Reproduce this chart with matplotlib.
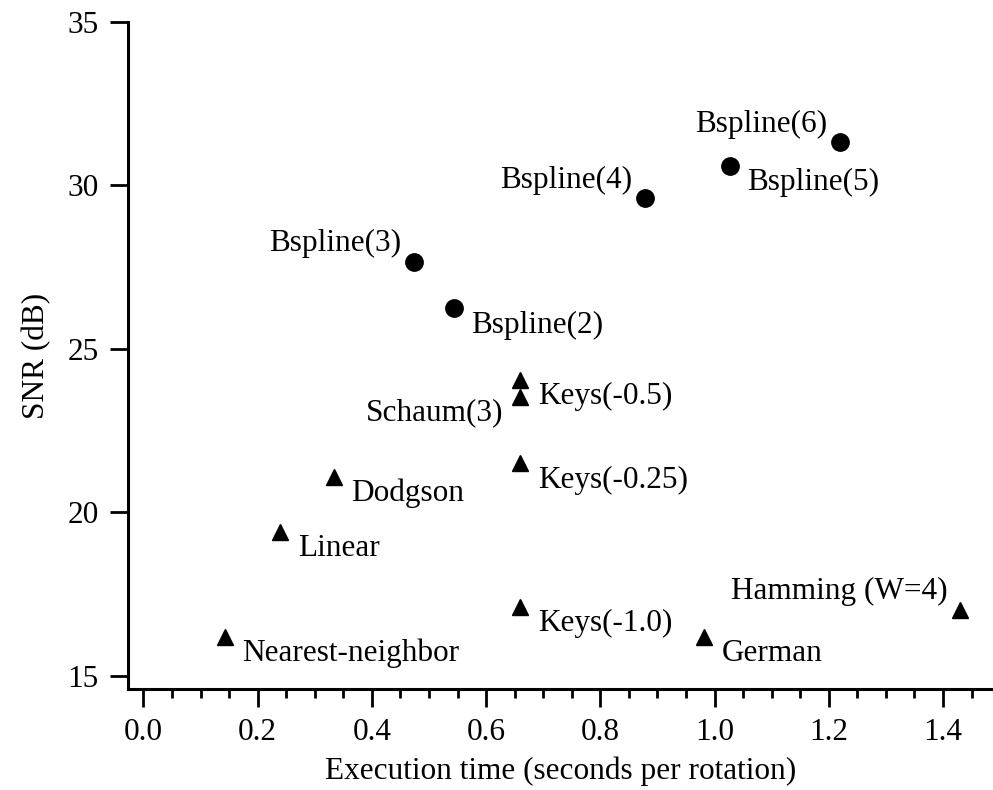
import matplotlib
matplotlib.use("Agg")
import matplotlib.pyplot as plt
from matplotlib.ticker import MultipleLocator

plt.rcParams['font.family'] = ['Liberation Serif', 'DejaVu Serif']

# Data
bspline_names = ["Bspline(2)", "Bspline(3)", "Bspline(4)", "Bspline(5)", "Bspline(6)"]
bspline_time = [0.543, 0.473, 0.878, 1.027, 1.220]
bspline_snr = [26.24, 27.67, 29.61, 30.61, 31.32]

other_names = ["Nearest-neighbor", "Linear", "Dodgson", "Keys(-0.25)", "Keys(-0.5)",
               "Schaum(3)", "Keys(-1.0)", "German", "Hamming (W=4)"]
other_time = [0.143, 0.240, 0.333, 0.660, 0.660, 0.660, 0.660, 0.982, 1.430]
other_snr = [16.19, 19.41, 21.09, 21.50, 24.05, 23.54, 17.12, 16.20, 17.02]

# label placement: 'rb' = right-below, 'la' = left-above, 'lb' = left-below
bspline_place = ["rb", "la", "la", "rb", "la"]
other_place = ["rb", "rb", "rb", "rb", "rb", "lb", "rb", "rb", "la"]

x_ticks = [0.0, 0.2, 0.4, 0.6, 0.8, 1.0, 1.2, 1.4]
y_ticks = [15, 20, 25, 30, 35]

FS = 22.5

fig = plt.figure(figsize=(9.93, 7.90), dpi=100)
ax = fig.add_axes([128 / 993, 1 - 689 / 790, 1 - 128 / 993, (689 - 22) / 790])

ax.plot(bspline_time, bspline_snr, linestyle="none", marker="o", markersize=12.5,
        color="black", clip_on=False)
ax.plot(other_time, other_snr, linestyle="none", marker="^", markersize=11.5,
        color="black", clip_on=False)

offsets = {"rb": (12.5, -12.0, "left"), "la": (-9.0, 13.0, "right"), "lb": (-12.5, -11.5, "right")}

def label(names, xs, ys, places):
    for n, x, y, p in zip(names, xs, ys, places):
        dx, dy, ha = offsets[p]
        ax.annotate(n, (x, y), xytext=(dx, dy), textcoords="offset points",
                    ha=ha, va="center", fontsize=FS)

label(bspline_names, bspline_time, bspline_snr, bspline_place)
label(other_names, other_time, other_snr, other_place)

ax.set_xlim(-0.027, 1.4876)
ax.set_ylim(14.60, 35)
ax.set_xticks(x_ticks)
ax.set_xticklabels([f"{v:.1f}" for v in x_ticks])
ax.set_yticks(y_ticks)
ax.xaxis.set_minor_locator(MultipleLocator(0.05))

for s in ["top", "right"]:
    ax.spines[s].set_visible(False)
for s in ["left", "bottom"]:
    ax.spines[s].set_linewidth(2.2)

ax.tick_params(axis="both", which="major", direction="out", length=13, width=2.0,
               labelsize=FS, pad=8)
ax.tick_params(axis="x", which="minor", direction="out", length=6.5, width=2.0)

ax.set_xlabel("Execution time (seconds per rotation)", fontsize=FS, labelpad=7)
ax.set_ylabel("SNR (dB)", fontsize=FS, labelpad=12)

fig.savefig("out.png", dpi=100)
